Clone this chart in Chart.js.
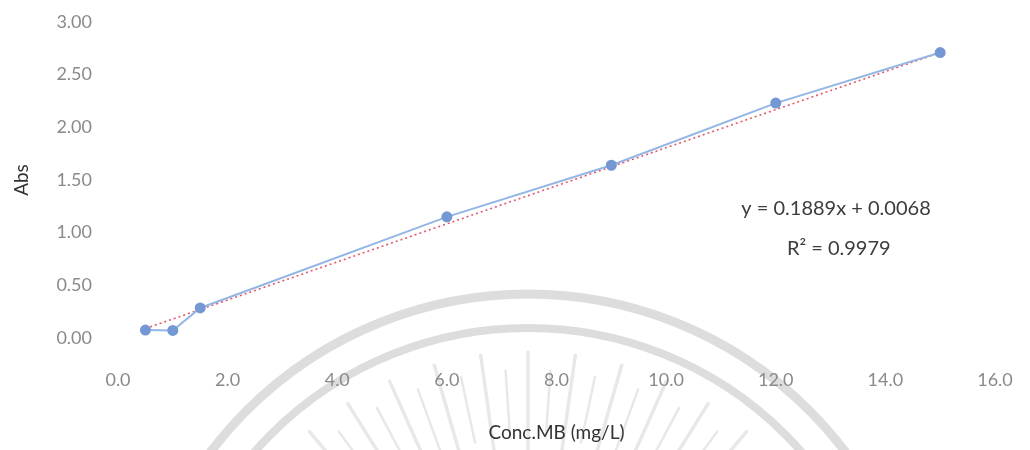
<!DOCTYPE html>
<html>
<head>
<meta charset="utf-8">
<script src="https://cdn.jsdelivr.net/npm/chart.js@4/dist/chart.umd.min.js"></script>
<style>
  html, body { margin: 0; padding: 0; background: #ffffff; }
  #wrap { width: 1030px; height: 450px; position: relative; }
</style>
</head>
<body>
<div id="wrap"><canvas id="c" width="1030" height="450"></canvas></div>
<script>
// ---- data ----
const concX = [0.5, 1.0, 1.5, 6.0, 9.0, 12.0, 15.0];
const absY  = [0.075, 0.072, 0.285, 1.15, 1.64, 2.23, 2.71];
// trendline endpoints as drawn in the reference
const trendX = [0.5, 15.0];
const trendY = [0.09, 2.71];
const xTicks = [0, 2, 4, 6, 8, 10, 12, 14, 16];
const yTicks = [0, 0.5, 1.0, 1.5, 2.0, 2.5, 3.0];
const eqText = "y = 0.1889x + 0.0068";
const r2Text = "R\u00B2 = 0.9979";
const xTitle = "Conc.MB (mg/L)";
const yTitle = "Abs";

const dataPts  = concX.map((x, i) => ({ x: x, y: absY[i] }));
const trendPts = trendX.map((x, i) => ({ x: x, y: trendY[i] }));

const FONT = "Lato, 'Open Sans', sans-serif";

// faint watermark in the background (university seal)
const watermark = {
  id: 'watermark',
  beforeDraw(chart) {
    const ctx = chart.ctx;
    const cx = 528, cy = 692;
    ctx.save();
    ctx.strokeStyle = '#dddddd';
    ctx.lineCap = 'round';
    ctx.lineWidth = 9;
    ctx.beginPath(); ctx.arc(cx, cy, 398, Math.PI, 2 * Math.PI); ctx.stroke();
    ctx.lineWidth = 8;
    ctx.beginPath(); ctx.arc(cx, cy, 364, Math.PI, 2 * Math.PI); ctx.stroke();
    ctx.strokeStyle = '#e8e8e8';
    for (let a = -154; a <= -26; a += 4) {
      const rad = a * Math.PI / 180;
      const long = (Math.round(Math.abs(a + 90) / 4) % 2) === 0;
      const r0 = long ? 240 : 255;
      const r1 = long ? 340 : 322;
      ctx.lineWidth = long ? 3.5 : 2.5;
      ctx.beginPath();
      ctx.moveTo(cx + r0 * Math.cos(rad), cy + r0 * Math.sin(rad));
      ctx.lineTo(cx + r1 * Math.cos(rad), cy + r1 * Math.sin(rad));
      ctx.stroke();
    }
    ctx.restore();
  }
};

// regression equation text
const equation = {
  id: 'equation',
  afterDatasetsDraw(chart) {
    const ctx = chart.ctx;
    const xs = chart.scales.x, ys = chart.scales.y;
    ctx.save();
    ctx.fillStyle = '#3c3c3c';
    ctx.font = "20px " + FONT;
    ctx.textAlign = 'center';
    ctx.textBaseline = 'middle';
    ctx.fillText(eqText, xs.getPixelForValue(13.1), ys.getPixelForValue(1.225));
    ctx.fillText(r2Text, xs.getPixelForValue(13.15), ys.getPixelForValue(0.845));
    ctx.restore();
  }
};

new Chart(document.getElementById('c'), {
  type: 'scatter',
  data: {
    datasets: [
      {
        label: 'Abs',
        data: dataPts,
        showLine: true,
        borderColor: '#93b6e4',
        borderWidth: 2,
        backgroundColor: '#7398d4',
        pointBorderColor: '#7398d4',
        pointRadius: 4.5,
        pointHoverRadius: 4.5,
        tension: 0
      },
      {
        label: 'Linear',
        data: trendPts,
        showLine: true,
        borderColor: '#e2596b',
        borderWidth: 1.6,
        borderDash: [2, 3],
        pointRadius: 0,
        tension: 0
      }
    ]
  },
  options: {
    responsive: false,
    animation: false,
    events: [],
    layout: { padding: { left: 6, right: 35, top: 22, bottom: 2 } },
    plugins: {
      legend: { display: false },
      tooltip: { enabled: false }
    },
    scales: {
      x: {
        type: 'linear',
        min: 0, max: 16,
        afterBuildTicks(scale) { scale.ticks = xTicks.map(v => ({ value: v })); },
        afterFit(scale) { scale.height = 110; },
        grid: { display: false, drawTicks: true, tickLength: 31 },
        border: { display: false },
        ticks: {
          padding: 0,
          color: '#8a8a8a',
          font: { family: FONT, size: 18 },
          maxRotation: 0,
          callback: v => Number(v).toFixed(1)
        },
        title: {
          display: true,
          text: xTitle,
          color: '#333333',
          font: { family: FONT, size: 19 },
          padding: { top: 4, bottom: 4 }
        }
      },
      y: {
        type: 'linear',
        min: 0, max: 3,
        afterBuildTicks(scale) { scale.ticks = yTicks.map(v => ({ value: v })); },
        afterFit(scale) { scale.width = 112; },
        grid: { display: false, drawTicks: true, tickLength: 26 },
        border: { display: false },
        ticks: {
          padding: 0,
          color: '#8a8a8a',
          font: { family: FONT, size: 18 },
          callback: v => Number(v).toFixed(2)
        },
        title: {
          display: true,
          text: yTitle,
          color: '#333333',
          font: { family: FONT, size: 19 },
          padding: { top: 4, bottom: 4 }
        }
      }
    }
  },
  plugins: [watermark, equation]
});
</script>
</body>
</html>
